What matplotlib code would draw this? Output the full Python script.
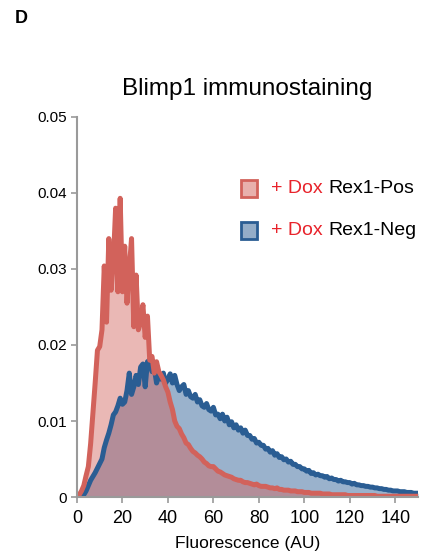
import numpy as np
import matplotlib
matplotlib.use("Agg")
import matplotlib.pyplot as plt
from matplotlib.patches import Rectangle

plt.rcParams['font.family'] = ['Liberation Sans', 'DejaVu Sans']

# fluorescence bins (AU)
fluor = np.arange(0, 151)

# density values, in units of 1e-3
rex1_pos = [
    0.0, 0.3, 0.8, 1.5, 2.8, 4.0, 7.0, 11.0, 15.0, 19.3,
    19.8, 22.0, 30.4, 23.0, 34.0, 27.2, 31.0, 38.0, 27.0, 39.3,
    27.0, 33.0, 25.5, 30.0, 34.0, 22.4, 29.2, 22.0, 23.0, 25.3,
    21.0, 23.8, 18.0, 18.5, 16.3, 17.8, 16.5, 16.0, 15.4, 14.5,
    13.8, 12.5, 11.5, 10.0, 9.3, 9.0, 8.3, 7.8, 7.1, 6.9,
    6.4, 6.0, 5.8, 5.5, 5.3, 5.0, 4.6, 4.4, 4.1, 4.0,
    4.0, 3.7, 3.4, 3.3, 3.1, 2.9, 2.8, 2.7, 2.6, 2.4,
    2.3, 2.2, 2.2, 2.0, 1.9, 1.9, 1.8, 1.7, 1.6, 1.7,
    1.5, 1.4, 1.4, 1.4, 1.3, 1.2, 1.2, 1.1, 1.2, 1.0,
    1.0, 0.9, 0.9, 0.9, 0.8, 0.8, 0.8, 0.7, 0.7, 0.7,
    0.6, 0.6, 0.6, 0.5, 0.5, 0.5, 0.5, 0.5, 0.4, 0.4,
    0.4, 0.4, 0.3, 0.3, 0.3, 0.3, 0.3, 0.3, 0.3, 0.2,
    0.2, 0.2, 0.2, 0.2, 0.2, 0.2, 0.2, 0.2, 0.2, 0.2,
    0.2, 0.2, 0.1, 0.1, 0.1, 0.1, 0.1, 0.1, 0.1, 0.1,
    0.1, 0.1, 0.1, 0.1, 0.1, 0.1, 0.1, 0.1, 0.1, 0.1,
    0.1,
]

rex1_neg = [
    0.0, 0.0, 0.1, 0.3, 0.8, 1.5, 2.2, 2.7, 3.2, 3.8,
    4.4, 5.0, 6.5, 7.5, 8.4, 9.5, 10.8, 11.2, 12.0, 13.0,
    12.2, 12.5, 14.0, 16.3, 13.5, 14.5, 16.0, 14.8, 17.1, 17.5,
    14.5, 17.8, 18.0, 16.5, 17.0, 15.0, 16.0, 15.5, 16.3, 15.0,
    15.5, 16.2, 15.0, 16.0, 14.8, 14.0, 14.5, 14.8, 13.5, 14.0,
    13.2, 13.0, 13.5, 12.5, 12.8, 12.0, 11.8, 12.3, 11.5, 11.3,
    11.8, 10.8, 10.9, 10.3, 10.9, 10.0, 10.5, 9.5, 9.9, 9.1,
    9.5, 8.8, 9.1, 8.4, 8.8, 8.1, 8.1, 7.6, 7.7, 7.1,
    7.2, 6.8, 6.8, 6.3, 6.4, 5.9, 6.1, 5.5, 5.7, 5.2,
    5.3, 4.9, 5.0, 4.6, 4.7, 4.3, 4.3, 4.0, 4.0, 3.7,
    3.7, 3.4, 3.5, 3.1, 3.2, 2.9, 3.0, 2.8, 2.8, 2.6,
    2.7, 2.4, 2.5, 2.3, 2.3, 2.1, 2.2, 2.0, 2.0, 1.9,
    1.9, 1.7, 1.8, 1.6, 1.6, 1.5, 1.5, 1.4, 1.4, 1.3,
    1.3, 1.2, 1.2, 1.1, 1.1, 1.0, 1.0, 0.9, 0.9, 0.8,
    0.8, 0.8, 0.7, 0.7, 0.7, 0.6, 0.6, 0.6, 0.5, 0.5,
    0.5,
]

pos = np.array(rex1_pos) / 1000
neg = np.array(rex1_neg) / 1000

red = '#d2625b'
blue = '#2a5d93'
dox_red = '#e8232b'
grey = '#9a9a9a'

fig = plt.figure(figsize=(4.46, 5.57), dpi=100)
ax = fig.add_axes([0.1726, 0.1077, 0.7646, 0.6823])

# blue first, red drawn over it
ax.fill_between(fluor, 0, neg, color=blue, alpha=0.47, lw=0)
ax.plot(fluor, neg, color=blue, lw=3.6, solid_joinstyle='round')
ax.fill_between(fluor, 0, pos, color=red, alpha=0.45, lw=0)
ax.plot(fluor, pos, color=red, lw=3.6, solid_joinstyle='round')

ax.set_xlim(0, 150)
ax.set_ylim(0, 0.05)
ax.set_xticks(range(0, 141, 20))
ax.set_yticks([0, 0.01, 0.02, 0.03, 0.04, 0.05])
ax.set_yticklabels(['0', '0.01', '0.02', '0.03', '0.04', '0.05'])

for s in ['top', 'right']:
    ax.spines[s].set_visible(False)
for s in ['left', 'bottom']:
    ax.spines[s].set_color(grey)
    ax.spines[s].set_linewidth(1.5)
ax.tick_params(axis='both', colors=grey, length=4, width=1.2, labelcolor='black')
ax.tick_params(axis='y', labelsize=11, pad=3)
ax.tick_params(axis='x', labelsize=13, pad=5)

ax.set_xlabel('Fluorescence (AU)', fontsize=12.5, labelpad=7)
ax.set_title('Blimp1 immunostaining', fontsize=17.5, pad=16)

fig.text(0.034, 0.982, 'D', fontsize=13, fontweight='bold', va='top')

# legend, built by hand for the two-colour labels
entries = [('Rex1-Pos', red, 0.812), ('Rex1-Neg', blue, 0.702)]
for label, col, yy in entries:
    ax.add_patch(Rectangle((0.482, yy - 0.022), 0.046, 0.044, transform=ax.transAxes,
                           facecolor=col, alpha=0.5, edgecolor='none'))
    ax.add_patch(Rectangle((0.482, yy - 0.022), 0.046, 0.044, transform=ax.transAxes,
                           facecolor='none', edgecolor=col, lw=2))
    t1 = ax.text(0.57, yy, '+ Dox', transform=ax.transAxes, fontsize=14,
                 color=dox_red, va='center')
    ax.annotate(label, xy=(1, 0), xycoords=t1, xytext=(4, 0),
                textcoords='offset points', fontsize=14, color='black', va='bottom')

fig.savefig('out.png', dpi=100)
